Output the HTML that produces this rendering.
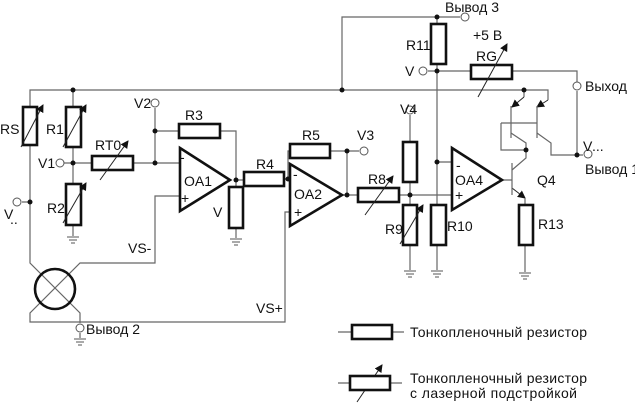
<!DOCTYPE html>
<html><head><meta charset="utf-8"><style>
html,body{margin:0;padding:0;background:#fff;}
svg{display:block}
text{font-family:"Liberation Sans",sans-serif;font-size:14px;fill:#111}
.w{stroke:#666;stroke-width:1.2;fill:none}
.r{stroke:#111;stroke-width:2.6;fill:#fff}
.o{stroke:#111;stroke-width:2.6;fill:#fff}
.a{stroke:#222;stroke-width:1;fill:none}
.c{stroke:#555;stroke-width:1;fill:#fff}
</style></head><body>
<svg width="635" height="403" viewBox="0 0 635 403" xmlns="http://www.w3.org/2000/svg">
<defs>
<marker id="ar" markerWidth="8" markerHeight="8" refX="7" refY="4" orient="auto" markerUnits="userSpaceOnUse"><path d="M0,0 L8,4 L0,8 z" fill="#111"/></marker>
<g id="gnd"><line x1="-6" y1="0" x2="6" y2="0" stroke="#555"/><line x1="-4" y1="3" x2="4" y2="3" stroke="#555"/><line x1="-2" y1="6" x2="2" y2="6" stroke="#555"/></g>
</defs>
<path class="w" d="M30,145 V263 L80,313 V322 M30,107 V90 H548 V100 M73,90 V107 M73,147 V184 M73,225 V236 M60,163 H92 M133,163 H180 M155,108 V163 M155,131 H179 M220,131 H236 V180 M180,196 H155 V263 H80 L30,313 V322 H285 V212 H290 M236,180 H244 M236,180 V187 M236,228 V238 M284,179 H290 M288,179 V151 H290 M330,151 H359 M347,151 V195 M342,195 H358 M399,195 H452 M410,115 V142 M410,182 V205 M410,245 V270 M342,90 V17 H460 M437,17 V24 M437,64 V205 M437,162 H452 M437,245 V270 M428,71 H471 M512,71 H577 V82 M577,91 V155 M22,202 H30 M80,313 V323 M80,333 V338 M502,180 H512 M526,150 V143 L511,133 M501,123 H537 M501,123 V150 H526 M537,133 L551,143 V155 H583 M524,90 V97 M526,150 V158 L512,170 M525,245 V272"/>
<path class="a" d="M524,97 L512,107" marker-end="url(#ar)"/>
<path class="a" d="M548,100 L537,107" marker-end="url(#ar)"/>
<path class="a" d="M512,188 L525,198" marker-end="url(#ar)"/>
<path class="w" d="M525,198 V205 M511,106 V138 M537,106 V138 M512,163 V195"/>
<g fill="#111">
<circle cx="73" cy="90" r="2.5"/><circle cx="342" cy="90" r="2.5"/><circle cx="524" cy="90" r="2.5"/>
<circle cx="73" cy="163" r="2.5"/><circle cx="155" cy="163" r="2.5"/><circle cx="155" cy="131" r="2.5"/>
<circle cx="30" cy="202" r="2.5"/><circle cx="236" cy="180" r="2.5"/><circle cx="288" cy="179" r="2.5"/>
<circle cx="347" cy="151" r="2.5"/><circle cx="347" cy="195" r="2.5"/><circle cx="410" cy="195" r="2.5"/>
<circle cx="437" cy="17" r="2.5"/><circle cx="437" cy="71" r="2.5"/><circle cx="437" cy="162" r="2.5"/>
<circle cx="526" cy="150" r="2.5"/><circle cx="577" cy="155" r="2.5"/>
</g>
<g class="c">
<circle cx="60" cy="163" r="4"/><circle cx="155" cy="103" r="4"/><circle cx="17" cy="202" r="4"/>
<circle cx="364" cy="151" r="4"/><circle cx="410" cy="110" r="4"/><circle cx="465" cy="17" r="4"/>
<circle cx="423" cy="71" r="4"/><circle cx="577" cy="86" r="4"/><circle cx="588" cy="154" r="4"/>
<circle cx="80" cy="328" r="4"/>
</g>
<use href="#gnd" x="73" y="237"/><use href="#gnd" x="236" y="239"/><use href="#gnd" x="410" y="271"/>
<use href="#gnd" x="437" y="271"/><use href="#gnd" x="525" y="273"/><use href="#gnd" x="80" y="339"/>
<rect class="r" x="23" y="107" width="14" height="38"/>
<rect class="r" x="66" y="107" width="15" height="40"/>
<rect class="r" x="66" y="184" width="15" height="41"/>
<rect class="r" x="92" y="156" width="41" height="14"/>
<rect class="r" x="179" y="124" width="41" height="14"/>
<rect class="r" x="229" y="187" width="14" height="41"/>
<rect class="r" x="244" y="172" width="40" height="14"/>
<rect class="r" x="290" y="144" width="40" height="14"/>
<rect class="r" x="358" y="188" width="41" height="14"/>
<rect class="r" x="403" y="142" width="14" height="40"/>
<rect class="r" x="403" y="205" width="14" height="40"/>
<rect class="r" x="431" y="24" width="15" height="40"/>
<rect class="r" x="431" y="205" width="15" height="40"/>
<rect class="r" x="471" y="65" width="41" height="14"/>
<rect class="r" x="519" y="205" width="14" height="40"/>
<g class="a">
<line x1="21" y1="147" x2="43" y2="105" marker-end="url(#ar)"/>
<line x1="63" y1="147" x2="86" y2="105" marker-end="url(#ar)"/>
<line x1="63" y1="223" x2="86" y2="183" marker-end="url(#ar)"/>
<line x1="100" y1="180" x2="128" y2="141" marker-end="url(#ar)"/>
<line x1="365" y1="215" x2="393" y2="176" marker-end="url(#ar)"/>
<line x1="400" y1="244" x2="423" y2="205" marker-end="url(#ar)"/>
<line x1="478" y1="97" x2="507" y2="44" marker-end="url(#ar)"/>
<line x1="357" y1="402" x2="382" y2="365" marker-end="url(#ar)"/>
</g>
<path class="o" d="M180,148 L230,180 L180,211 Z"/>
<path class="o" d="M290,164 L342,195 L290,226 Z"/>
<path class="o" d="M452,148 L502,180 L452,210 Z"/>
<circle cx="55" cy="289" r="20" fill="none" stroke="#111" stroke-width="2.6"/>
<path class="w" d="M338,332 H352 M392,332 H404 M338,383 H350 M390,383 H402"/>
<rect class="r" x="352" y="325" width="40" height="14"/>
<rect class="r" x="350" y="376" width="40" height="14"/>
<text x="0" y="134">RS</text><text x="46" y="134">R1</text><text x="47" y="213">R2</text>
<text x="38" y="168">V1</text><text x="134" y="108">V2</text><text x="95" y="150">RT0</text>
<text x="185" y="120">R3</text><text x="184" y="186" font-size="15">OA1</text>
<text x="213" y="217">V</text><text x="4" y="219">V</text><text x="10" y="224" font-size="6">..</text>
<text x="128" y="253">VS-</text><text x="256" y="313">VS+</text>
<text x="256" y="169">R4</text><text x="302" y="140">R5</text><text x="294" y="199" font-size="15">OA2</text>
<text x="357" y="140">V3</text><text x="368" y="184">R8</text><text x="400" y="114">V4</text>
<text x="385" y="234">R9</text><text x="447" y="231">R10</text><text x="455" y="185" font-size="15">OA4</text>
<text x="537" y="185">Q4</text><text x="538" y="229">R13</text>
<text x="406" y="50">R11</text><text x="476" y="61">RG</text><text x="473" y="40">+5 В</text>
<text x="405" y="76">V</text><text x="445" y="12">Вывод 3</text>
<text x="585" y="91">Выход</text><text x="583" y="151">V</text><text x="592" y="151" font-size="6">...</text>
<text x="585" y="174">Вывод 1</text>
<text x="86" y="334">Вывод 2</text>
<text x="410" y="337" textLength="177">Тонкопленочный резистор</text>
<text x="410" y="383" textLength="177">Тонкопленочный резистор</text>
<text x="410" y="398" textLength="167">с  лазерной подстройкой</text>
<text x="180" y="162" font-size="12">-</text><text x="181" y="203" font-size="12">+</text>
<text x="293" y="179" font-size="12">-</text><text x="294" y="217" font-size="12">+</text>
<text x="456" y="170" font-size="12">-</text><text x="455" y="200" font-size="12">+</text>
</svg>
</body></html>
